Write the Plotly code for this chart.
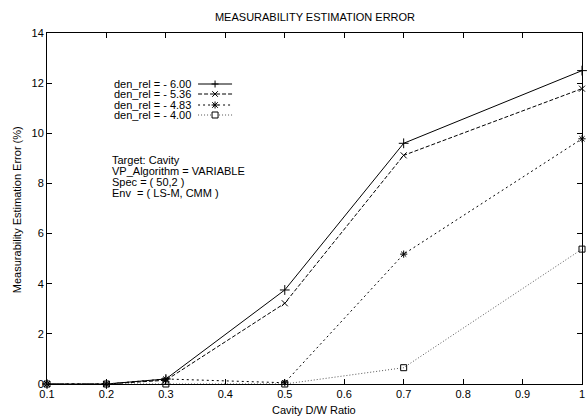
import plotly.graph_objects as go

x_vals = [0.1, 0.2, 0.3, 0.5, 0.7, 1.0]
names = ["den_rel = - 6.00", "den_rel = - 5.36", "den_rel = - 4.83", "den_rel = - 4.00"]
s1 = [0.0, 0.0, 0.2, 3.75, 9.6, 12.5]
s2 = [0.0, 0.0, 0.15, 3.22, 9.12, 11.78]
s3 = [0.0, 0.0, 0.2, 0.05, 5.18, 9.78]
s4 = [0.0, 0.0, 0.0, 0.0, 0.65, 5.38]
x_ticks = [0.1, 0.2, 0.3, 0.4, 0.5, 0.6, 0.7, 0.8, 0.9, 1.0]
x_tick_text = ["0.1", "0.2", "0.3", "0.4", "0.5", "0.6", "0.7", "0.8", "0.9", "1"]
y_ticks = [0, 2, 4, 6, 8, 10, 12, 14]
info_lines = ["Target: Cavity", "VP_Algorithm = VARIABLE", "Spec = ( 50,2 )", "Env  = ( LS-M, CMM )"]

series = [s1, s2, s3, s4]
dashes = ["solid", "4px,2px", "2px,3px", "1px,2px"]
colors = ["#000000", "#000000", "#000000", "#555555"]
symbols = ["cross-thin-open", "x-thin-open", "asterisk-open", "square-open"]
sizes = [7, 6, 6, 6]

W, H = 587, 417
L, R, T, B = 47, 2, 33, 33
PW, PH = W - L - R, H - T - B

def px(xp):
    return (xp - L) / PW

def py(yp):
    return (H - B - yp) / PH

fig = go.Figure()
for nm, ys, d, c, sym, sz in zip(names, series, dashes, colors, symbols, sizes):
    fig.add_trace(go.Scatter(
        x=x_vals, y=ys, name=nm, mode="lines+markers",
        line=dict(color=c, width=1, dash=d),
        marker=dict(symbol=sym, size=sz, color="#000000", line=dict(width=1, color="#000000")),
        cliponaxis=False, showlegend=False, hoverinfo="skip",
    ))

font = "Liberation Sans, Arial, sans-serif"
annotations = []
shapes = []

# gnuplot-style key: text, then line sample with marker
key_rows = [84, 94, 105, 115]
text_right = 194
sample_mid = 216
for nm, yrow, d, c, sym in zip(names, key_rows, dashes, colors, symbols):
    annotations.append(dict(x=px(text_right), y=py(yrow), xref="paper", yref="paper",
                            xanchor="right", yanchor="middle", showarrow=False,
                            text=nm, font=dict(size=11)))
    xa, ya = px(sample_mid), py(yrow)
    base = dict(xref="paper", yref="paper", xsizemode="pixel", ysizemode="pixel",
                xanchor=xa, yanchor=ya)
    shapes.append(dict(type="line", x0=-17, x1=17, y0=0, y1=0,
                       line=dict(color=c, width=1, dash=d), **base))
    mk = dict(color="#000000", width=1)
    if sym.startswith("cross") or sym.startswith("asterisk"):
        shapes.append(dict(type="line", x0=-3.5, x1=3.5, y0=0, y1=0, line=mk, **base))
        shapes.append(dict(type="line", x0=0, x1=0, y0=-3.5, y1=3.5, line=mk, **base))
    if sym.startswith("x") or sym.startswith("asterisk"):
        shapes.append(dict(type="line", x0=-2.8, x1=2.8, y0=-2.8, y1=2.8, line=mk, **base))
        shapes.append(dict(type="line", x0=-2.8, x1=2.8, y0=2.8, y1=-2.8, line=mk, **base))
    if sym.startswith("square"):
        shapes.append(dict(type="rect", x0=-3, x1=3, y0=-3, y1=3, line=mk,
                           fillcolor="white", **base))

info_y = [160, 171, 182, 193]
for t, yy in zip(info_lines, info_y):
    annotations.append(dict(x=px(110), y=py(yy), xref="paper", yref="paper",
                            xanchor="left", yanchor="middle", showarrow=False,
                            text=t, font=dict(size=11)))

# axis titles
annotations.append(dict(x=px(315), y=py(410), xref="paper", yref="paper",
                        xanchor="center", yanchor="middle", showarrow=False,
                        text="Cavity D/W Ratio", font=dict(size=11)))
annotations.append(dict(x=px(17), y=py(210), xref="paper", yref="paper",
                        xanchor="center", yanchor="middle", showarrow=False, textangle=-90,
                        text="Measurability Estimation Error (%)", font=dict(size=11)))

fig.update_layout(
    width=W, height=H,
    margin=dict(l=L, r=R, t=T, b=B, pad=0),
    paper_bgcolor="white", plot_bgcolor="white",
    font=dict(family=font, size=11, color="#000000"),
    title=dict(text="MEASURABILITY ESTIMATION ERROR", x=315 / W, xanchor="center",
               y=1 - 17 / H, yanchor="middle", font=dict(size=11)),
    showlegend=False,
    annotations=annotations,
    shapes=shapes,
)
fig.update_xaxes(
    range=[0.1, 1.0], tickvals=x_ticks, ticktext=x_tick_text,
    ticks="inside", ticklen=5, tickcolor="#000", showline=True, linecolor="#000",
    linewidth=1, mirror="ticks", showgrid=False, zeroline=False,
    ticklabeloverflow="allow",
)
fig.update_yaxes(
    range=[0, 14], tickvals=y_ticks,
    ticks="inside", ticklen=5, tickcolor="#000", showline=True, linecolor="#000",
    linewidth=1, mirror="ticks", showgrid=False, zeroline=False,
    ticklabeloverflow="allow",
)

fig.write_html(
    "out.html",
    config={"displayModeBar": False},
    post_script="document.body.style.margin='0';document.body.style.overflow='hidden';",
)
